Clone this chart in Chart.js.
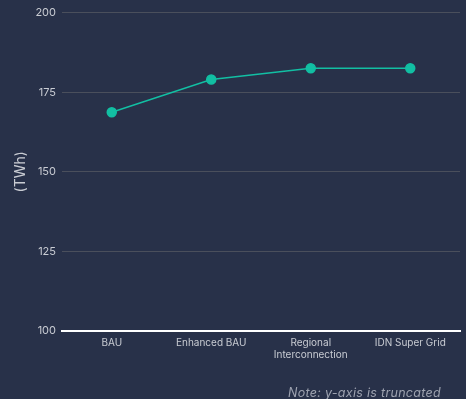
<!DOCTYPE html>
<html>
<head>
<meta charset="utf-8">
<script src="https://cdn.jsdelivr.net/npm/chart.js@4"></script>
<style>
  html, body { margin: 0; padding: 0; background: #283149; }
  #wrap { position: relative; width: 466px; height: 399px; }
  #note {
    position: absolute; right: 25px; bottom: -1px;
    font: italic 12.5px "Inter", "Noto Sans", sans-serif;
    color: #9ea3b0; letter-spacing: 0.3px;
  }
</style>
</head>
<body>
<div id="wrap">
  <canvas id="c" width="466" height="399"></canvas>
  <div id="note">Note: y-axis is truncated</div>
</div>
<script>
// Scenario categories and annual generation (TWh)
const categories = ["BAU", "Enhanced BAU", ["Regional", "Interconnection"], "IDN Super Grid"];
const generation = [168.7, 179.0, 182.5, 182.5];
const yTicks = [100, 125, 150, 175, 200];

const textColor = "#c9ccd3";

new Chart(document.getElementById("c"), {
  type: "line",
  data: {
    labels: categories,
    datasets: [{
      data: generation,
      borderColor: "#12bfa3",
      backgroundColor: "#12bfa3",
      borderWidth: 1.5,
      pointRadius: 4.5,
      pointHoverRadius: 4.5,
      tension: 0
    }]
  },
  options: {
    responsive: false,
    animation: false,
    layout: { padding: { top: 6, right: 5, bottom: 32, left: 0 } },
    plugins: { legend: { display: false }, tooltip: { enabled: false } },
    scales: {
      x: {
        offset: true,
        grid: { display: false, drawTicks: false },
        border: { display: true, color: "#ffffff", width: 2 },
        ticks: {
          color: textColor,
          font: { family: "Inter", size: 10 },
          padding: 6,
          maxRotation: 0
        }
      },
      y: {
        min: yTicks[0],
        max: yTicks[yTicks.length - 1],
        afterBuildTicks: (scale) => { scale.ticks = yTicks.map(v => ({ value: v })); },
        afterFit: (scale) => { scale.width = 62; },
        grid: { color: "#4a4f5c", lineWidth: 1, drawTicks: false },
        border: { display: false },
        ticks: {
          color: textColor,
          font: { family: "Inter", size: 11 },
          padding: 6
        },
        title: {
          display: true,
          text: "(TWh)",
          color: textColor,
          font: { family: "Inter", size: 14 },
          padding: { top: 12, bottom: 0 }
        }
      }
    }
  }
});
</script>
</body>
</html>
